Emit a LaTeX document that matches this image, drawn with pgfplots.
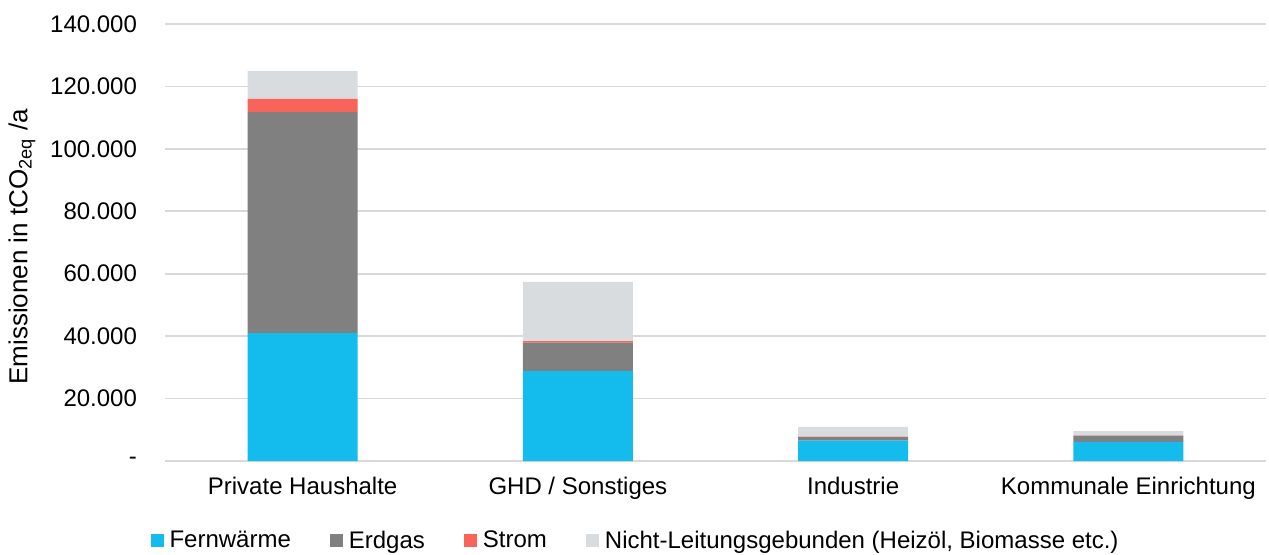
\documentclass[border=0pt]{standalone}
\usepackage{fontspec}
\setmainfont{Liberation Sans}
\usepackage{pgfplots}
\pgfplotsset{compat=1.18}
\definecolor{cFern}{HTML}{13BCEC}
\definecolor{cErd}{HTML}{808080}
\definecolor{cStrom}{HTML}{F8635A}
\definecolor{cNicht}{HTML}{D9DCDF}
\definecolor{cGrid}{HTML}{D9D9D9}
\begin{document}
\begin{tikzpicture}
\path[use as bounding box] (-82.5pt,-46.5pt) rectangle (552pt,230.5pt);
\begin{axis}[
  scale only axis,
  width=550.5pt, height=218.5pt,
  at={(0,0)}, anchor=south west,
  ybar stacked,
  bar width=0.4,
  xmin=-0.5, xmax=3.5,
  ymin=0, ymax=140000,
  scaled y ticks=false,
  axis line style={draw=none},
  major tick length=0pt,
  ymajorgrids,
  grid style={cGrid, line width=0.9pt},
  ytick={0,20000,40000,60000,80000,100000,120000,140000},
  yticklabels={-,20.000,40.000,60.000,80.000,100.000,120.000,140.000},
  xtick={0,1,2,3},
  xticklabels={Private Haushalte,GHD / Sonstiges,Industrie,Kommunale Einrichtung},
  font=\fontsize{12pt}{14pt}\selectfont,
  yticklabel style={anchor=east, xshift=-10.5pt},
  xticklabel style={yshift=-4.5pt},
  ylabel={Emissionen in tCO\textsubscript{2eq} /a},
  ylabel style={at={(axis description cs:-0.1299,0.49)}, anchor=center, rotate=0,
    font=\fontsize{13pt}{15pt}\selectfont},
  legend columns=4,
  legend style={draw=none, fill=none, at={(axis description cs:0.4292,-0.183)}, anchor=center,
    /tikz/every even column/.append style={column sep=16.5pt},
    nodes={inner xsep=3pt}},
  legend image code/.code={\fill[#1] (0pt,-3.25pt) rectangle (6.5pt,3.25pt);},
]
\addplot[fill=cFern, draw=none] coordinates {(0,41000) (1,28800) (2,6550) (3,6100)};
\addplot[fill=cErd, draw=none] coordinates {(0,70800) (1,9100) (2,1100) (3,2000)};
\addplot[fill=cStrom, draw=none] coordinates {(0,4200) (1,500) (2,150) (3,50)};
\addplot[fill=cNicht, draw=none] coordinates {(0,9000) (1,18950) (2,3100) (3,1400)};
\legend{Fernwärme,Erdgas,Strom,{Nicht-Leitungsgebunden (Heizöl, Biomasse etc.)}}
\end{axis}
\end{tikzpicture}
\end{document}
